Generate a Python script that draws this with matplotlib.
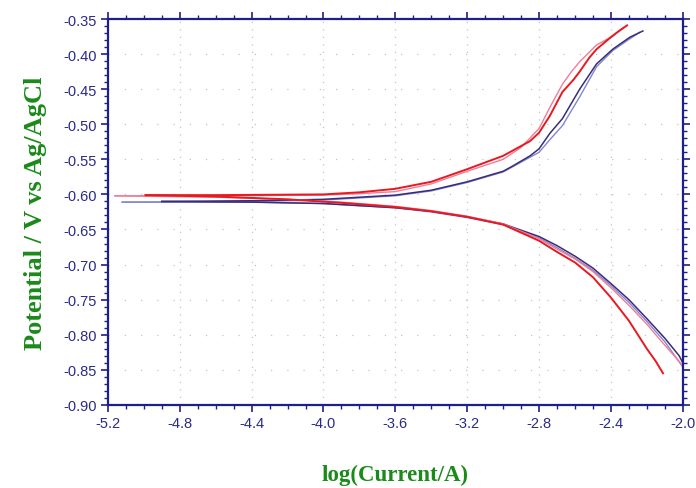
import numpy as np
import matplotlib
matplotlib.use("Agg")
import matplotlib.pyplot as plt
from matplotlib.ticker import MultipleLocator, FormatStrFormatter

# Tafel curves: log(current) vs potential
# each curve = cathodic branch (right end -> Ecorr) + anodic branch (left start -> top)
red_cat_logi = [-2.11, -2.15, -2.2, -2.3, -2.4, -2.5, -2.6, -2.7, -2.8, -3.0, -3.2, -3.4, -3.6, -3.9, -4.2, -4.6, -4.99]
red_cat_E = [-0.855, -0.838, -0.820, -0.780, -0.747, -0.718, -0.697, -0.682, -0.666, -0.643, -0.632, -0.624, -0.618, -0.612, -0.607, -0.603, -0.601]
red_an_logi = [-4.99, -4.6, -4.0, -3.8, -3.6, -3.4, -3.2, -3.0, -2.95, -2.85, -2.8, -2.74, -2.67, -2.61, -2.574, -2.52, -2.48, -2.41, -2.36, -2.31]
red_an_E = [-0.601, -0.601, -0.600, -0.597, -0.592, -0.582, -0.564, -0.545, -0.538, -0.524, -0.512, -0.488, -0.454, -0.437, -0.425, -0.405, -0.393, -0.378, -0.368, -0.359]

pink_cat_logi = [-2.0, -2.02, -2.1, -2.2, -2.3, -2.4, -2.5, -2.6, -2.7, -2.8, -3.0, -3.2, -3.4, -3.6, -3.9, -4.2, -4.6, -5.16]
pink_cat_E = [-0.845, -0.838, -0.815, -0.785, -0.758, -0.733, -0.710, -0.692, -0.678, -0.663, -0.642, -0.631, -0.623, -0.617, -0.611, -0.607, -0.604, -0.602]
pink_an_logi = [-5.16, -4.6, -4.0, -3.8, -3.6, -3.4, -3.2, -3.0, -2.9, -2.8, -2.74, -2.67, -2.62, -2.574, -2.52, -2.48, -2.41, -2.36, -2.33]
pink_an_E = [-0.602, -0.602, -0.601, -0.599, -0.596, -0.585, -0.567, -0.550, -0.533, -0.506, -0.476, -0.443, -0.425, -0.411, -0.397, -0.387, -0.377, -0.368, -0.362]

navy_cat_logi = [-2.0, -2.02, -2.1, -2.2, -2.3, -2.4, -2.5, -2.6, -2.7, -2.8, -3.0, -3.2, -3.4, -3.6, -4.0, -4.4, -4.9]
navy_cat_E = [-0.840, -0.830, -0.805, -0.777, -0.750, -0.727, -0.705, -0.688, -0.673, -0.660, -0.642, -0.632, -0.624, -0.619, -0.613, -0.611, -0.610]
navy_an_logi = [-4.9, -4.4, -4.0, -3.8, -3.6, -3.4, -3.2, -3.0, -2.95, -2.85, -2.8, -2.74, -2.67, -2.574, -2.48, -2.39, -2.295, -2.222]
navy_an_E = [-0.610, -0.609, -0.607, -0.604, -0.601, -0.594, -0.582, -0.567, -0.560, -0.545, -0.535, -0.513, -0.492, -0.450, -0.414, -0.393, -0.376, -0.367]

blue_cat_logi = [-2.0, -2.1, -2.2, -2.3, -2.4, -2.5, -2.6, -2.7, -2.8, -3.0, -3.2, -3.4, -3.6, -4.0, -4.4, -5.12]
blue_cat_E = [-0.846, -0.810, -0.781, -0.754, -0.730, -0.708, -0.691, -0.676, -0.662, -0.643, -0.633, -0.625, -0.619, -0.613, -0.611, -0.611]
blue_an_logi = [-5.12, -4.4, -4.0, -3.8, -3.6, -3.4, -3.2, -3.0, -2.9, -2.8, -2.74, -2.67, -2.574, -2.48, -2.39, -2.3, -2.24]
blue_an_E = [-0.611, -0.610, -0.608, -0.605, -0.602, -0.595, -0.583, -0.568, -0.554, -0.540, -0.522, -0.502, -0.461, -0.418, -0.395, -0.379, -0.369]

curves = [
    (blue_cat_logi, blue_cat_E, blue_an_logi, blue_an_E, "#7f88cf", 1.0),
    (navy_cat_logi, navy_cat_E, navy_an_logi, navy_an_E, "#3b2c7a", 1.1),
    (pink_cat_logi, pink_cat_E, pink_an_logi, pink_an_E, "#f07c98", 1.0),
    (red_cat_logi, red_cat_E, red_an_logi, red_an_E, "#e8191f", 1.4),
]

navy = "#1f1f8c"
green = "#1a8a1a"

fig = plt.figure(figsize=(6.96, 4.89), dpi=100)
ax = fig.add_axes([0.155, 0.170, 0.826, 0.789])

for cat_x, cat_y, an_x, an_y, col, lw in curves:
    ax.plot(cat_x, cat_y, color=col, lw=lw)
    ax.plot(an_x, an_y, color=col, lw=lw)

ax.set_xlim(-5.2, -2.0)
ax.set_ylim(-0.90, -0.35)
ax.xaxis.set_major_locator(MultipleLocator(0.4))
ax.xaxis.set_minor_locator(MultipleLocator(0.1))
ax.yaxis.set_major_locator(MultipleLocator(0.05))
ax.yaxis.set_minor_locator(MultipleLocator(0.01))
ax.xaxis.set_major_formatter(FormatStrFormatter("%.1f"))
ax.yaxis.set_major_formatter(FormatStrFormatter("%.2f"))

# sparse dotted grid
ax.grid(True, axis="x", which="major", color="#c4c4c4", lw=0.9, linestyle=(0, (1, 5)))
ax.grid(True, axis="y", which="major", color="#c4c4c4", lw=0.9, linestyle=(0, (1, 12)))

for sp in ax.spines.values():
    sp.set_color(navy)
    sp.set_linewidth(1.6)

ax.tick_params(which="both", direction="out", colors=navy, top=True, right=True,
               labeltop=False, labelright=False)
ax.tick_params(which="major", length=5, width=1.2, pad=3)
ax.tick_params(which="minor", length=3, width=1.0)

tick_font = ["Liberation Sans Narrow", "Liberation Sans", "DejaVu Sans"]
for lab in ax.get_xticklabels() + ax.get_yticklabels():
    lab.set_family(tick_font)
    lab.set_fontsize(10.5)
    lab.set_color("#2a2a88")

ax.set_xlabel("log(Current/A)", family=["Liberation Serif", "DejaVu Serif"],
              fontsize=16.5, fontweight="bold", color=green, labelpad=24)
ax.set_ylabel("Potential / V vs Ag/AgCl", family=["Liberation Serif", "DejaVu Serif"],
              fontsize=19, fontweight="bold", color=green, labelpad=12)

fig.savefig("out.png", dpi=100)
